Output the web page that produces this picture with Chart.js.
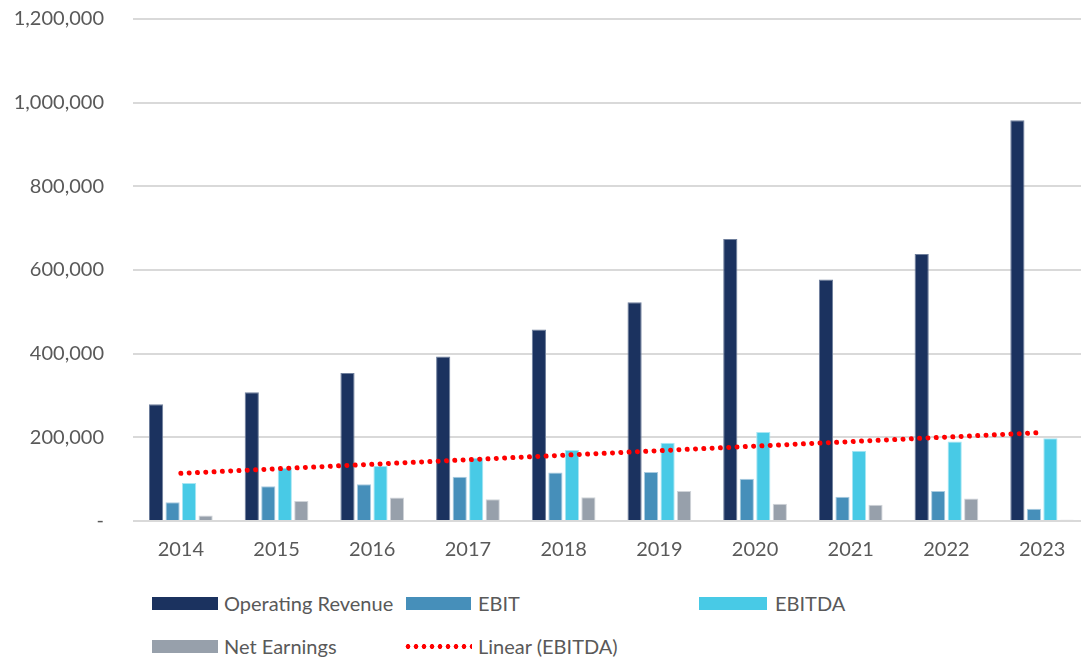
<!DOCTYPE html>
<html>
<head>
<meta charset="utf-8">
<script src="https://cdn.jsdelivr.net/npm/chart.js@4.4.1/dist/chart.umd.min.js"></script>
<style>
  html, body { margin: 0; padding: 0; background: #fff; overflow: hidden; }
  #wrap { position: relative; width: 1081px; height: 663px; overflow: hidden; }
  #box { position: absolute; left: 0; top: 0; width: 1092px; height: 575px; }
  .leg { position: absolute; font-family: Lato, sans-serif; font-size: 20px; color: #595959; line-height: 24px; white-space: nowrap; }
  .sw { position: absolute; height: 13px; }
  .dots { position: absolute; height: 5px; background-image: radial-gradient(circle, #ff0000 2.3px, transparent 2.6px); background-size: 8px 5px; background-repeat: repeat-x; }
</style>
</head>
<body>
<div id="wrap">
  <div id="box"><canvas id="myChart"></canvas></div>
  <div class="sw" style="left:152px;top:597px;width:66px;background:#1b325f"></div>
  <div class="leg" style="left:224px;top:591px">Operating Revenue</div>
  <div class="sw" style="left:406px;top:597px;width:65px;background:#468fba"></div>
  <div class="leg" style="left:478px;top:591px">EBIT</div>
  <div class="sw" style="left:699px;top:597px;width:68px;background:#48cae6"></div>
  <div class="leg" style="left:775px;top:591px">EBITDA</div>
  <div class="sw" style="left:152px;top:640px;width:66px;background:#97a0ab"></div>
  <div class="leg" style="left:224px;top:634px">Net Earnings</div>
  <div class="dots" style="left:404px;top:644px;width:68px"></div>
  <div class="leg" style="left:478px;top:634px">Linear (EBITDA)</div>
</div>
<script>
var ctx = document.getElementById('myChart').getContext('2d');

// Kategorier og verdier (lest av bildet)
var years = ['2014', '2015', '2016', '2017', '2018', '2019', '2020', '2021', '2022', '2023'];
var operatingRevenue = [279000, 308000, 354000, 393000, 458000, 523000, 674000, 577000, 638000, 958000];
var ebit = [45000, 83000, 88000, 106000, 116000, 117000, 101000, 58000, 72000, 29000];
var ebitda = [91000, 127000, 132000, 151000, 170000, 187000, 213000, 168000, 190000, 198000];
var netEarnings = [13000, 48000, 56000, 52000, 57000, 72000, 41000, 39000, 54000, 3000];
var yTicks = [0, 200000, 400000, 600000, 800000, 1000000, 1200000];

// Lineær trend for EBITDA (minste kvadraters metode, som i Excel)
function linearTrend(values) {
    var n = values.length, sx = 0, sy = 0, sxy = 0, sxx = 0;
    for (var i = 0; i < n; i++) {
        sx += i; sy += values[i]; sxy += i * values[i]; sxx += i * i;
    }
    var slope = (n * sxy - sx * sy) / (n * sxx - sx * sx);
    var icpt = (sy - slope * sx) / n;
    return values.map(function (v, i) { return icpt + slope * i; });
}

var barStyle = { categoryPercentage: 0.69, barPercentage: 0.86, borderWidth: 1 };

var myChart = new Chart(ctx, {
    type: 'bar',
    data: {
        labels: years,
        datasets: [
            Object.assign({ label: 'Operating Revenue', data: operatingRevenue, backgroundColor: '#1b325f', borderColor: '#6f7f9c', order: 2 }, barStyle),
            Object.assign({ label: 'EBIT', data: ebit, backgroundColor: '#468fba', borderColor: '#a9cbe0', order: 2 }, barStyle),
            Object.assign({ label: 'EBITDA', data: ebitda, backgroundColor: '#48cae6', borderColor: '#a8e6f3', order: 2 }, barStyle),
            Object.assign({ label: 'Net Earnings', data: netEarnings, backgroundColor: '#97a0ab', borderColor: '#d0d4d9', order: 2 }, barStyle),
            {
                type: 'line',
                label: 'Linear (EBITDA)',
                data: linearTrend(ebitda),
                borderColor: '#ff0000',
                borderWidth: 5,
                borderDash: [0.01, 8.3],
                borderCapStyle: 'round',
                pointRadius: 0,
                fill: false,
                order: 1
            }
        ]
    },
    options: {
        responsive: true,
        maintainAspectRatio: false,
        animation: false,
        layout: { padding: { top: 0, right: 2, left: 0, bottom: 0 } },
        plugins: {
            legend: { display: false },
            tooltip: { enabled: false }
        },
        scales: {
            x: {
                grid: { display: false, drawTicks: false },
                border: { display: false },
                ticks: { color: '#595959', font: { family: 'Lato', size: 20 }, padding: 17 },
                afterFit: function (scale) { scale.height = 54; }
            },
            y: {
                min: 0,
                max: 1200000,
                afterBuildTicks: function (scale) {
                    scale.ticks = yTicks.map(function (v) { return { value: v }; });
                },
                grid: { color: '#d9d9d9', lineWidth: 2, drawTicks: false },
                border: { display: false },
                ticks: {
                    color: '#595959',
                    font: { family: 'Lato', size: 20 },
                    padding: 29,
                    callback: function (v) { return v === 0 ? '-' : v.toLocaleString('en-US'); }
                },
                afterFit: function (scale) {
                    scale.width = 133;
                    scale.paddingTop = 19;
                    scale.paddingBottom = 0;
                }
            }
        }
    }
});
</script>
</body>
</html>
